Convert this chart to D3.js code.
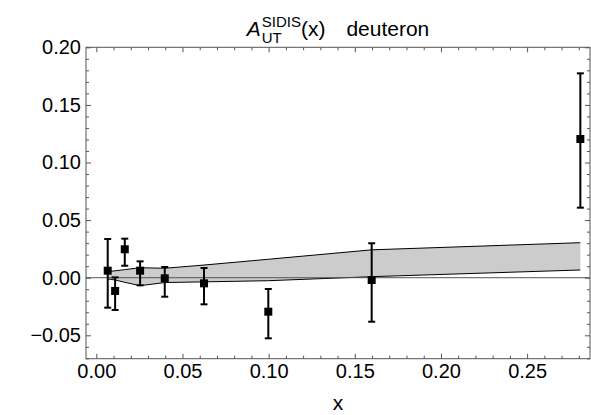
<!DOCTYPE html>
<html><head><meta charset="utf-8">
<script src="https://cdn.jsdelivr.net/npm/d3@7"></script>
<style>body{margin:0;background:#fff} text{font-family:"Liberation Sans",Arial,sans-serif}</style>
</head><body><svg id="c" width="591" height="415"></svg>
<script>
// data points (x, asymmetry, error bar ends)
const xVals   = [0.0066, 0.0109, 0.0165, 0.0254, 0.0397, 0.0625, 0.0998, 0.1598, 0.2809];
const yVals   = [0.0061, -0.0115, 0.0247, 0.0061, -0.0005, -0.0049, -0.0295, -0.0020, 0.1204];
const errHigh = [0.0336, 0.0003, 0.0339, 0.0142, 0.0093, 0.0084, -0.0098, 0.0299, 0.1774];
const errLow  = [-0.0260, -0.0280, 0.0104, -0.0066, -0.0165, -0.0231, -0.0526, -0.0382, 0.0608];
// theory band
const bandUpper = [0.0052, 0.0060, 0.0070, 0.0087, 0.0082, 0.0110, 0.0160, 0.0242, 0.0304];
const bandLower = [-0.0010, -0.0020, -0.0040, -0.0069, -0.0042, -0.0036, -0.0026, 0.0009, 0.0067];
// ticks
const xTicks = [0, 0.05, 0.10, 0.15, 0.20, 0.25];
const xTickLabels = ["0.00", "0.05", "0.10", "0.15", "0.20", "0.25"];
const yTicks = [-0.05, 0, 0.05, 0.10, 0.15, 0.20];
const yTickLabels = ["\u22120.05", "0.00", "0.05", "0.10", "0.15", "0.20"];
const xMinor = d3.range(0, 29).map(i => i / 100).filter(v => !xTicks.some(t => Math.abs(t - v) < 1e-9));
const yMinor = d3.range(-7, 21).map(i => i / 100).filter(v => !yTicks.some(t => Math.abs(t - v) < 1e-9));

const svg = d3.select('#c');
const L = 86, R = 590, T = 47.3, B = 358.7;
const x = d3.scaleLinear().domain([-0.006, 0.2865]).range([L, R]);
const y = d3.scaleLinear().domain([-0.0703, 0.2]).range([B, T]);

const pts = xVals.map((v, i) => ({x: v, y: yVals[i], hi: errHigh[i], lo: errLow[i], up: bandUpper[i], dn: bandLower[i]}));

// band
const area = d3.area().x(d => x(d.x)).y0(d => y(d.dn)).y1(d => y(d.up));
svg.append('path').datum(pts).attr('d', area).attr('fill', '#cccccc');
svg.append('path').datum(pts).attr('d', d3.line().x(d => x(d.x)).y(d => y(d.up))).attr('fill', 'none').attr('stroke', '#000').attr('stroke-width', 1);
svg.append('path').datum(pts).attr('d', d3.line().x(d => x(d.x)).y(d => y(d.dn))).attr('fill', 'none').attr('stroke', '#000').attr('stroke-width', 1);
// zero line
svg.append('line').attr('x1', L).attr('x2', R).attr('y1', y(0)).attr('y2', y(0)).attr('stroke', '#555').attr('stroke-width', 1);

// axes
function styleAxis(g) {
  g.select('.domain').remove();
  g.selectAll('.tick line').attr('stroke', '#555');
  g.selectAll('.tick text').attr('fill', '#000').style('font-size', '20px').style('font-family', '"Liberation Sans",Arial,sans-serif');
}
svg.append('g').attr('transform', `translate(0,${B})`)
  .call(d3.axisBottom(x).tickValues(xTicks).tickSizeInner(-5).tickSizeOuter(0).tickPadding(5).tickFormat((d, i) => xTickLabels[i])).call(styleAxis);
svg.append('g').attr('transform', `translate(0,${B})`)
  .call(d3.axisBottom(x).tickValues(xMinor).tickSizeInner(-3).tickSizeOuter(0).tickFormat('')).call(styleAxis);
svg.append('g').attr('transform', `translate(0,${T})`)
  .call(d3.axisTop(x).tickValues(xTicks).tickSizeInner(-5).tickSizeOuter(0).tickFormat('')).call(styleAxis);
svg.append('g').attr('transform', `translate(0,${T})`)
  .call(d3.axisTop(x).tickValues(xMinor).tickSizeInner(-3).tickSizeOuter(0).tickFormat('')).call(styleAxis);
svg.append('g').attr('transform', `translate(${L},0)`)
  .call(d3.axisLeft(y).tickValues(yTicks).tickSizeInner(-5).tickSizeOuter(0).tickPadding(5).tickFormat((d, i) => yTickLabels[i])).call(styleAxis);
svg.append('g').attr('transform', `translate(${L},0)`)
  .call(d3.axisLeft(y).tickValues(yMinor).tickSizeInner(-3).tickSizeOuter(0).tickFormat('')).call(styleAxis);
svg.append('g').attr('transform', `translate(${R},0)`)
  .call(d3.axisRight(y).tickValues(yTicks).tickSizeInner(-5).tickSizeOuter(0).tickFormat('')).call(styleAxis);
svg.append('g').attr('transform', `translate(${R},0)`)
  .call(d3.axisRight(y).tickValues(yMinor).tickSizeInner(-3).tickSizeOuter(0).tickFormat('')).call(styleAxis);

// frame
svg.append('rect').attr('x', L).attr('y', T).attr('width', R - L).attr('height', B - T)
  .attr('fill', 'none').attr('stroke', '#555').attr('stroke-width', 1);

// error bars
const eb = svg.append('g').attr('stroke', '#000').attr('stroke-width', 2);
pts.forEach(d => {
  eb.append('line').attr('x1', x(d.x)).attr('x2', x(d.x)).attr('y1', y(d.hi)).attr('y2', y(d.lo));
  eb.append('line').attr('x1', x(d.x) - 3.5).attr('x2', x(d.x) + 3.5).attr('y1', y(d.hi)).attr('y2', y(d.hi));
  eb.append('line').attr('x1', x(d.x) - 3.5).attr('x2', x(d.x) + 3.5).attr('y1', y(d.lo)).attr('y2', y(d.lo));
});
svg.append('g').selectAll('rect').data(pts).join('rect')
  .attr('x', d => x(d.x) - 4).attr('y', d => y(d.y) - 4).attr('width', 8).attr('height', 8).attr('fill', '#000');

// title
const tg = svg.append('g');
const tA = tg.append('text').attr('x', 0).attr('y', 36).style('font-size', '21px').style('font-style', 'italic').text('A');
const aw = tA.node().getComputedTextLength();
const tSup = tg.append('text').attr('x', aw + 1).attr('y', 27).style('font-size', '15px').text('SIDIS');
const tSub = tg.append('text').attr('x', aw + 1).attr('y', 43).style('font-size', '15px').text('UT');
const sw = Math.max(tSup.node().getComputedTextLength(), tSub.node().getComputedTextLength());
const tRest = tg.append('text').attr('x', aw + 1 + sw).attr('y', 36).style('font-size', '21px').attr('xml:space', 'preserve').text('(x)\u2003deuteron');
const totalW = aw + 1 + sw + tRest.node().getComputedTextLength();
tg.attr('transform', `translate(${(L + R) / 2 - totalW / 2},0)`);

// x axis label
svg.append('text').attr('x', (L + R) / 2).attr('y', 410).attr('text-anchor', 'middle').style('font-size', '21px').text('x');
</script></body></html>
